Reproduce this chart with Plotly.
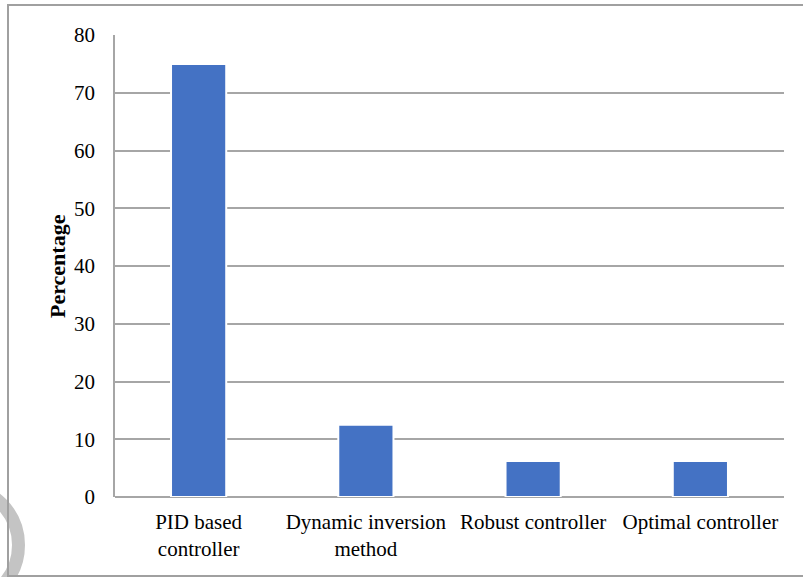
import plotly.graph_objects as go

categories = ["PID based<br>controller", "Dynamic inversion<br>method", "Robust controller", "Optimal controller"]
values = [75, 12.5, 6.25, 6.25]
y_ticks = [0, 10, 20, 30, 40, 50, 60, 70, 80]

FONT = "Liberation Serif, Times New Roman, serif"
GRID = "#a6a6a6"

fig = go.Figure(go.Bar(
    x=categories, y=values,
    marker=dict(color="#4472C4", line=dict(color="white", width=2)),
))

fig.update_layout(
    width=803, height=577,
    margin=dict(l=115, r=19, t=35, b=80),
    paper_bgcolor="white", plot_bgcolor="white",
    bargap=0.67,
    showlegend=False,
    font=dict(family=FONT, size=21, color="black"),
    xaxis=dict(showgrid=False, showline=False, zeroline=False, ticks="", automargin=False,
               ticklabelstandoff=10,
               tickfont=dict(family=FONT, size=21, color="black")),
    yaxis=dict(range=[0, 80], tickvals=y_ticks, showgrid=True, gridcolor=GRID, gridwidth=1.5,
               zeroline=True, zerolinecolor=GRID, zerolinewidth=1.5, automargin=False,
               showline=True, linecolor=GRID, linewidth=1.5, ticks="",
               ticklabelstandoff=14,
               tickfont=dict(family=FONT, size=21, color="black")),
    annotations=[dict(text="<b>Percentage</b>", x=0, y=0.5, xref="paper", yref="paper",
                      xanchor="center", yanchor="middle", xshift=-58, textangle=-90,
                      showarrow=False, font=dict(family=FONT, size=22, color="black"))],
    shapes=[
        dict(type="rect", xref="paper", yref="paper", xsizemode="pixel", ysizemode="pixel",
             xanchor=0, yanchor=0, x0=-107, x1=700, y0=-79, y1=492,
             line=dict(color="#a0a0a0", width=2), fillcolor="rgba(0,0,0,0)", layer="above"),
        dict(type="circle", xref="paper", yref="paper", xsizemode="pixel", ysizemode="pixel",
             xanchor=0, yanchor=0, x0=-213.5, x1=-96.5, y0=-106.5, y1=10.5,
             line=dict(color="#c4c4c4", width=13), fillcolor="rgba(0,0,0,0)", layer="below"),
    ],
)

fig.write_html("out.html", config={"displayModeBar": False},
               post_script="document.body.style.margin='0';document.body.style.overflow='hidden';")
